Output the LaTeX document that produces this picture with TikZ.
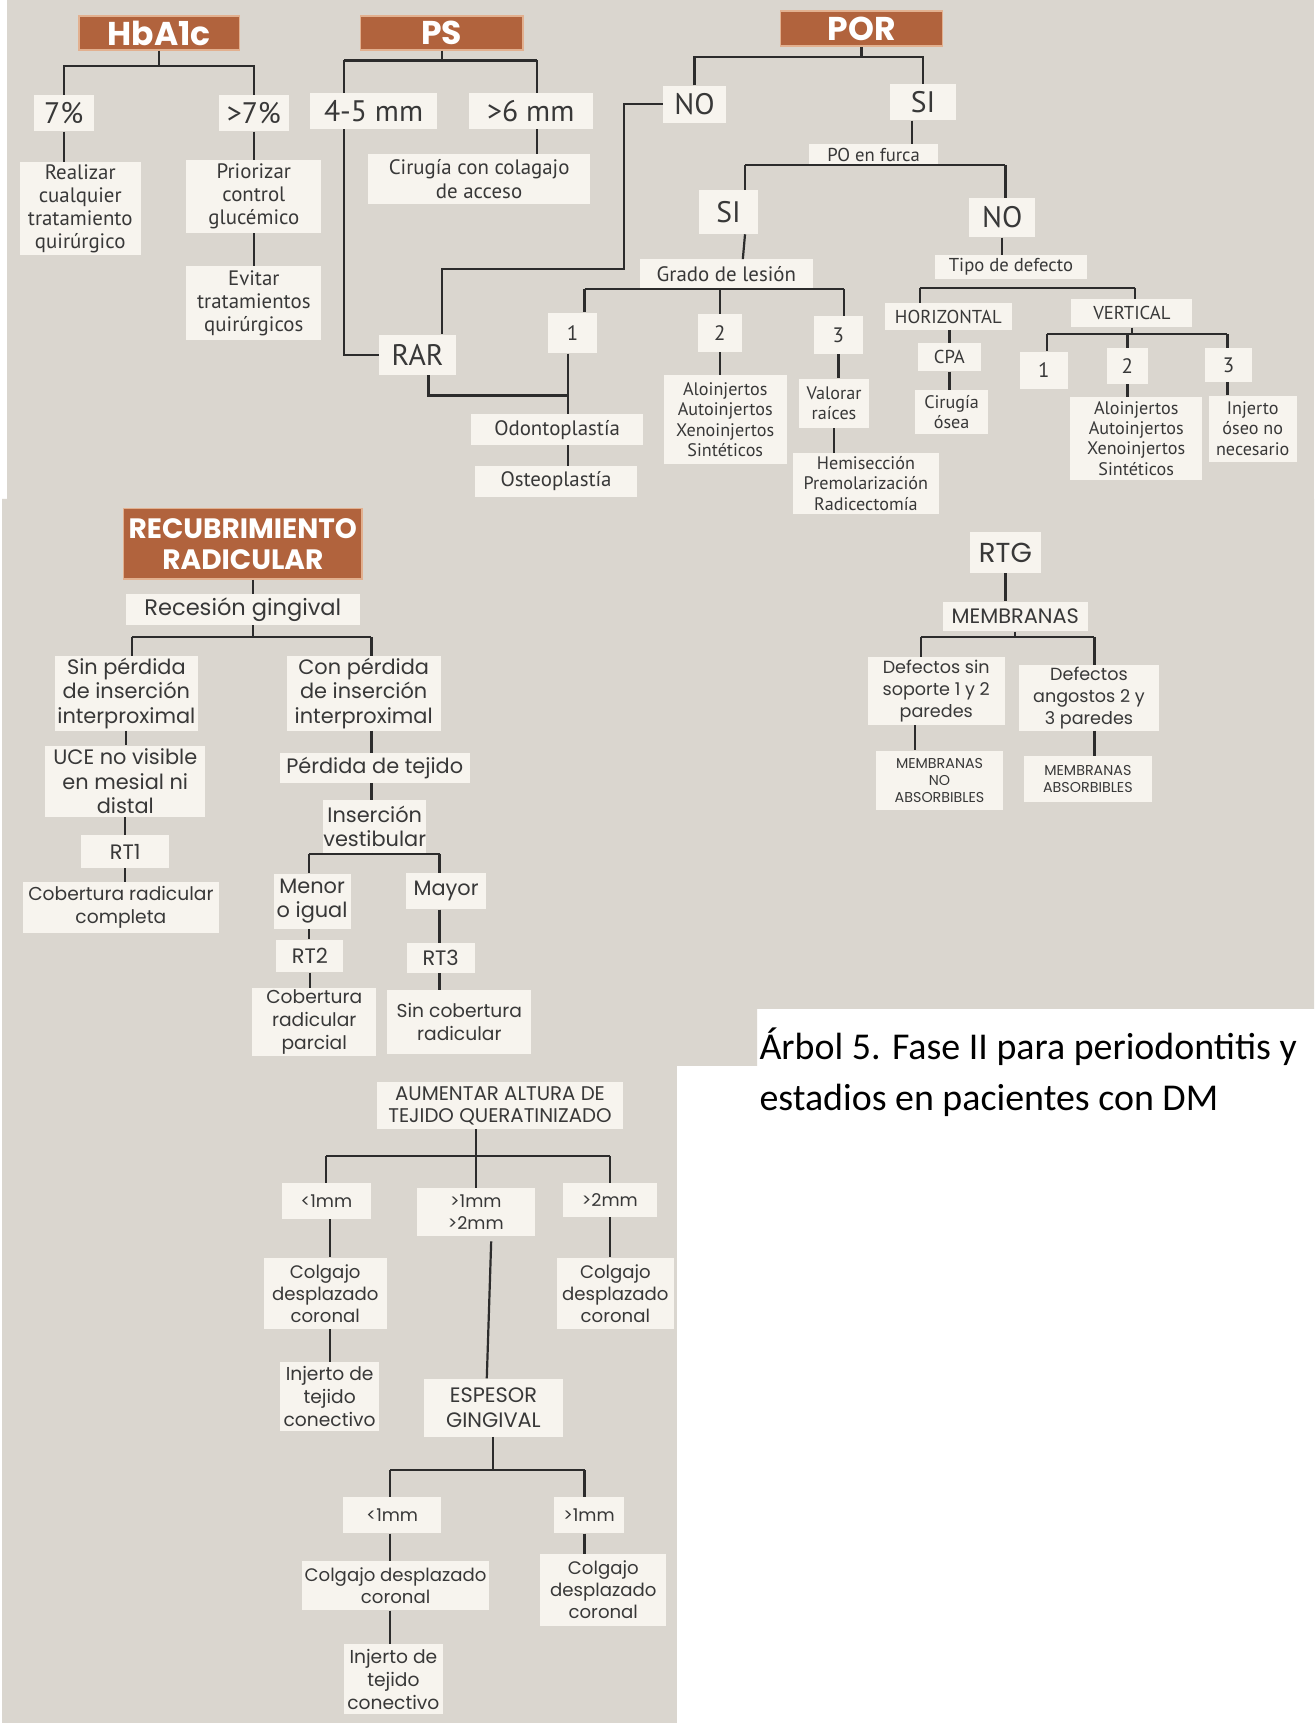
\documentclass[tikz,border=0pt]{standalone}
\usepackage{fontspec}
\setmainfont{PT Sans}
\newfontfamily\topf{PT Sans}
\newfontfamily\lowf{Poppins}
\newfontfamily\capf{Carlito}
\newcommand\fz[2]{\fontsize{#1}{#2}\selectfont}
\definecolor{paper}{HTML}{DAD6CF}
\definecolor{boxc}{HTML}{F7F4EE}
\definecolor{brn}{HTML}{B1633D}
\definecolor{brnl}{HTML}{E2B08F}
\definecolor{ink}{HTML}{383838}
\definecolor{lnc}{HTML}{2C2C2C}
\tikzset{
  bx/.style={fill=boxc, inner sep=0pt, align=center, text=ink},
  wh/.style 2 args={minimum width=#1, minimum height=#2},
  tt/.style={fill=brn, draw=brnl, line width=1.2pt, inner sep=0pt, align=center,
             text=white, font=\lowf\bfseries\fz{30}{30}},
  ln/.style={draw=lnc, line width=2pt},
  tA/.style={font=\topf\fz{27}{30}},
  tB/.style={font=\topf\fz{19}{21}},
  tC/.style={font=\topf\fz{17}{19}},
  tD/.style={font=\topf\fz{16.5}{18.5}},
  lA/.style={font=\lowf\fz{19}{22}},
  lS/.style={font=\lowf\fz{17}{21}},
  lK/.style={font=\lowf\fz{16.5}{20}},
  lB/.style={font=\lowf\fz{16}{20}},
  lC/.style={font=\lowf\fz{13}{15.5}},
}
\begin{document}
\begin{tikzpicture}[x=1pt,y=-1pt]
\useasboundingbox (0,0) rectangle (1196,1568);
% paper background
\fill[white] (0,0) rectangle (1196,1568);
\fill[paper] (6,0) rectangle (1196,454);
\fill[paper] (2,454) -- (1196,454) -- (1196,918) -- (689,918) -- (689,970)
  -- (616,970) -- (616,1568) -- (2,1568) -- cycle;

% ---------- HbA1c ----------
\node[tt, wh={146}{31}] (hb) at (145,30) {HbA1c};
\node[bx, tA, wh={55}{33}] (p7) at (58,103) {7\%};
\node[bx, tA, wh={64}{33}] (pg7) at (231,103) {>7\%};
\node[bx, tB, wh={110}{85}] (real) at (73,190) {Realizar\\cualquier\\tratamiento\\quirúrgico};
\node[bx, tB, wh={123}{66}] (prio) at (231,179) {Priorizar\\control\\glucémico};
\node[bx, tB, wh={123}{67}] (evit) at (231,276) {Evitar\\tratamientos\\quirúrgicos};

% ---------- PS ----------
\node[tt, wh={148}{31}] (ps) at (402,30) {PS};
\node[bx, tA, wh={115}{33}] (b45) at (340,101) {4-5 mm};
\node[bx, tA, wh={113}{33}] (g6) at (483,101) {>6 mm};
\node[bx, tB, wh={202}{46}] (ciru) at (436,163) {Cirugía con colagajo\\de acceso};
\node[bx, tA, wh={70}{37}] (rar) at (380,323) {RAR};

% ---------- POR ----------
\node[tt, wh={148}{32}] (por) at (784,26) {POR};
\node[bx, tA, wh={57}{34}] (no1) at (632,95) {NO};
\node[bx, tA, wh={60}{33}] (si1) at (840,93) {SI};
\node[bx, tC, wh={117}{20}] (pof) at (795,141) {PO en furca};
\node[bx, tA, wh={53}{40}] (si2) at (663,193) {SI};
\node[bx, tA, wh={60}{36}] (no2) at (912,198) {NO};
\node[bx, tB, wh={157}{26}] (grado) at (661,249) {Grado de lesión};
\node[bx, tB, wh={45}{37}] (g1) at (521,303) {1};
\node[bx, tB, wh={40}{35}] (g2) at (655,303) {2};
\node[bx, tB, wh={45}{34}] (g3) at (763,305) {3};
\node[bx, tB, wh={157}{28}] (odo) at (507,391) {Odontoplastía};
\node[bx, tB, wh={148}{28}] (osteo) at (506,438) {Osteoplastía};
\node[bx, tD, wh={112}{81}] (aloA) at (660,382) {Aloinjertos\\Autoinjertos\\Xenoinjertos\\Sintéticos};
\node[bx, tD, wh={63}{45}] (val) at (759,367) {Valorar\\raíces};
\node[bx, tD, wh={133}{55}] (hemi) at (788,440) {Hemisección\\Premolarización\\Radicectomía};
\node[bx, tC, wh={138}{22}] (tipo) at (920,243) {Tipo de defecto};
\node[bx, tC, wh={115}{25}] (hor) at (863,288) {HORIZONTAL};
\node[bx, tC, wh={110}{26}] (ver) at (1030,285) {VERTICAL};
\node[bx, tC, wh={58}{26}] (cpa) at (864,325) {CPA};
\node[bx, tD, wh={66}{40}] (cir) at (866,375) {Cirugía\\ósea};
\node[bx, tB, wh={44}{34}] (v1) at (950,337) {1};
\node[bx, tB, wh={38}{33}] (v2) at (1026,333) {2};
\node[bx, tB, wh={42}{31}] (v3) at (1118,332) {3};
\node[bx, tD, wh={120}{75}] (aloB) at (1034,399) {Aloinjertos\\Autoinjertos\\Xenoinjertos\\Sintéticos};
\node[bx, tD, wh={80}{60}] (inj) at (1140,390) {Injerto\\óseo no\\necesario};

% ---------- Recubrimiento radicular ----------
\node[tt, font=\lowf\bfseries\fz{25.5}{28}, wh={217}{64}] (rec) at (221,495) {RECUBRIMIENTO\\RADICULAR};
\node[bx, font=\lowf\fz{20.5}{22}, wh={213}{28}] (reces) at (221,555) {Recesión gingival};
\node[bx, lA, wh={130}{68}] (sinp) at (115,631) {Sin pérdida\\de inserción\\interproximal};
\node[bx, lA, wh={140}{68}] (conp) at (331,631) {Con pérdida\\de inserción\\interproximal};
\node[bx, lA, wh={146}{65}] (uce) at (114,711) {UCE no visible\\en mesial ni\\distal};
\node[bx, lA, wh={80}{30}] (rt1) at (114,775) {RT1};
\node[bx, lS, wh={178}{47}] (cob1) at (110,826) {Cobertura radicular\\completa};
\node[bx, lA, wh={173}{27}] (perd) at (341,699) {Pérdida de tejido};
\node[bx, lA, wh={92}{48}] (ins) at (341,752) {Inserción\\vestibular};
\node[bx, lA, wh={70}{50}] (men) at (284,820) {Menor\\o igual};
\node[bx, lA, wh={73}{33}] (may) at (406,811) {Mayor};
\node[bx, lA, wh={61}{30}] (rt2) at (282,870) {RT2};
\node[bx, lA, wh={62}{27}] (rt3) at (401,872) {RT3};
\node[bx, lS, wh={113}{62}] (cob2) at (286,930) {Cobertura\\radicular\\parcial};
\node[bx, lS, wh={131}{58}] (sincob) at (418,930) {Sin cobertura\\radicular};

% ---------- Tejido queratinizado ----------
\node[bx, font=\lowf\fz{18}{20}, wh={223}{43}] (aum) at (455,1006) {AUMENTAR ALTURA DE\\TEJIDO QUERATINIZADO};
\node[bx, lB, wh={81}{33}] (a1) at (297,1093) {<1mm};
\node[bx, lB, wh={107}{43}] (a2) at (433,1103) {>1mm\\>2mm};
\node[bx, lB, wh={86}{31}] (a3) at (555,1092) {>2mm};
\node[bx, lK, wh={112}{65}] (col1) at (296,1177) {Colgajo\\desplazado\\coronal};
\node[bx, lS, wh={90}{63}] (injA) at (300,1271) {Injerto de\\tejido\\conectivo};
\node[bx, lK, wh={107}{65}] (col3) at (560,1177) {Colgajo\\desplazado\\coronal};
\node[bx, lA, wh={127}{53}] (esp) at (449,1281) {ESPESOR\\GINGIVAL};
\node[bx, lB, wh={89}{33}] (e1) at (357,1379) {<1mm};
\node[bx, lB, wh={63}{33}] (e2) at (536,1379) {>1mm};
\node[bx, lK, wh={170}{45}] (col4) at (360,1443) {Colgajo desplazado\\coronal};
\node[bx, lK, wh={115}{65}] (col5) at (549,1447) {Colgajo\\desplazado\\coronal};
\node[bx, lS, wh={90}{63}] (injB) at (358,1528) {Injerto de\\tejido\\conectivo};

% ---------- RTG ----------
\node[bx, font=\lowf\fz{25}{28}, wh={65}{37}] (rtg) at (915,503) {RTG};
\node[bx, lA, wh={132}{27}] (mem) at (924,561) {MEMBRANAS};
\node[bx, lB, wh={125}{62}] (def1) at (852,629) {Defectos sin\\soporte 1 y 2\\paredes};
\node[bx, lB, wh={128}{60}] (def2) at (991,635) {Defectos\\angostos 2 y\\3 paredes};
\node[bx, lC, wh={115}{54}] (mno) at (855,710) {MEMBRANAS\\NO\\ABSORBIBLES};
\node[bx, lC, wh={116}{42}] (mab) at (990,709) {MEMBRANAS\\ABSORBIBLES};

% ---------- caption ----------
\node[anchor=west, inner sep=0pt, align=left, text=black, font=\capf\fz{34.5}{46}] (cap)
  at (691,976) {Árbol 5. Fase II para periodontitis y\\estadios en pacientes con DM};

% ---------- connectors: HbA1c ----------
\coordinate (hbb) at (145,60);
\draw[ln] (hb.south) -- (hbb);
\draw[ln] (p7.north) |- (hbb) -| (pg7.north);
\draw[ln] (p7.south) -- (p7.south |- real.north);
\draw[ln] (pg7.south) -- (prio.north);
\draw[ln] (prio.south) -- (evit.north);

% ---------- connectors: PS ----------
\coordinate (psb) at (402,55);
\coordinate (c45) at (313,55);
\coordinate (c6) at (489,55);
\draw[ln] (ps.south) -- (psb);
\draw[ln] (c45) -- (c6);
\draw[ln] (c45) -- (c45 |- b45.north);
\draw[ln] (c6) -- (c6 |- g6.north);
\draw[ln] (c6 |- g6.south) -- (c6 |- ciru.north);
\draw[ln] (c45 |- b45.south) |- (rar.west);
\coordinate (k1) at (568,245);
\draw[ln] (no1.west) -| (k1) -| ([xshift=22pt]rar.north);
\coordinate (jx) at (517,360);
\draw[ln] (jx |- g1.south) -- (jx |- odo.north);
\draw[ln] ([xshift=10pt]rar.south) |- (jx);
\draw[ln] (jx |- odo.south) -- (jx |- osteo.north);

% ---------- connectors: POR ----------
\coordinate (porb) at (784,52);
\draw[ln] (por.south) -- (porb);
\draw[ln] (no1.north) |- (porb) -| (si1.north);
\draw[ln] ([xshift=-10pt]si1.south) -- ([xshift=35pt]pof.north);
\coordinate (pfl) at (678,150);
\coordinate (pfr) at (915,150);
\draw[ln] (pfl) -- (pfr);
\draw[ln] (pfl) -- (pfl |- si2.north);
\draw[ln] (pfr) -- (pfr |- no2.north);
\draw[ln] ([xshift=15pt]si2.south) -- ([xshift=15pt]grado.north);
\coordinate (gb1) at (532,263);
\coordinate (gb3) at (768,263);
\draw[ln] (gb1) -- (gb3);
\draw[ln] (gb1) -- (gb1 |- g1.north);
\draw[ln] (g2.north |- gb1) -- (g2.north);
\draw[ln] (gb3) -- (gb3 |- g3.north);
\draw[ln] (g2.south) -- (g2.south |- aloA.north);
\draw[ln] (g3.south) -- (g3.south |- val.north);
\draw[ln] (val.south) -- (val.south |- hemi.north);
\draw[ln] (no2.south) -- (no2.south |- tipo.north);
\coordinate (tl) at (837,262);
\coordinate (tr) at (1033,262);
\draw[ln] (tl) -- (tr);
\draw[ln] (tl) -- (tl |- hor.north);
\draw[ln] (tr) -- (tr |- ver.north);
\draw[ln] (cpa.north |- hor.south) -- (cpa.north);
\draw[ln] (cpa.south) -- (cpa.south |- cir.north);
\coordinate (vl) at (953,304);
\coordinate (vr) at (1117,304);
\draw[ln] (vl) -- (vr);
\draw[ln] (ver.south) -- (ver.south |- vl);
\draw[ln] (vl) -- (vl |- v1.north);
\draw[ln] (v2.north |- vl) -- (v2.north);
\draw[ln] (vr) -- (vr |- v3.north);
\draw[ln] (v2.south) -- (v2.south |- aloB.north);
\draw[ln] (vr |- v3.south) -- (vr |- inj.north);

% ---------- connectors: recubrimiento ----------
\coordinate (rm) at (230,580);
\coordinate (rl) at (120,580);
\coordinate (rr) at (338,580);
\draw[ln] (rm |- rec.south) -- (rm |- reces.north);
\draw[ln] (rm |- reces.south) -- (rm);
\draw[ln] (rl) -- (rr);
\draw[ln] (rl) -- (rl |- sinp.north);
\draw[ln] (rr) -- (rr |- conp.north);
\draw[ln] (sinp.south) -- (sinp.south |- uce.north);
\draw[ln] (uce.south) -- (uce.south |- rt1.north);
\draw[ln] (rt1.south) -- (rt1.south |- cob1.north);
\draw[ln] (rr |- conp.south) -- (rr |- perd.north);
\draw[ln] (rr |- perd.south) -- (rr |- ins.north);
\coordinate (il) at (281,777);
\coordinate (ir) at (400,777);
\draw[ln] (il) -- (ir);
\draw[ln] (rr |- ins.south) -- (rr |- il);
\draw[ln] (il) -- (il |- men.north);
\draw[ln] (ir) -- (ir |- may.north);
\draw[ln] (il |- men.south) -- (il |- rt2.north);
\draw[ln] (ir |- may.south) -- (ir |- rt3.north);
\draw[ln] (rt2.south) -- (rt2.south |- cob2.north);
\draw[ln] (ir |- rt3.south) -- (ir |- sincob.north);

% ---------- connectors: tejido queratinizado ----------
\coordinate (al) at (297,1052);
\coordinate (am) at (433,1052);
\coordinate (ar) at (555,1052);
\draw[ln] (al) -- (ar);
\draw[ln] (am |- aum.south) -- (am);
\draw[ln] (al) -- (al |- a1.north);
\draw[ln] (am) -- (am |- a2.north);
\draw[ln] (ar) -- (ar |- a3.north);
\coordinate (cx1) at (300,1150);
\draw[ln] (cx1 |- a1.south) -- (cx1 |- col1.north);
\draw[ln] (cx1 |- col1.south) -- (cx1 |- injA.north);
\draw[ln] (ar |- a3.south) -- (ar |- col3.north);
\draw[ln] ([xshift=14pt,yshift=-5pt]a2.south) -- ([xshift=-6pt]esp.north);
\coordinate (el) at (355,1338);
\coordinate (em) at (449,1338);
\coordinate (er) at (532,1338);
\draw[ln] (el) -- (er);
\draw[ln] (em |- esp.south) -- (em);
\draw[ln] (el) -- (el |- e1.north);
\draw[ln] (er) -- (er |- e2.north);
\draw[ln] (el |- e1.south) -- (el |- col4.north);
\draw[ln] (el |- col4.south) -- (el |- injB.north);
\draw[ln] (er |- e2.south) -- (er |- col5.north);

% ---------- connectors: RTG ----------
\draw[ln] (rtg.south) -- (rtg.south |- mem.north);
\coordinate (ml) at (838,580);
\coordinate (mr) at (996,580);
\draw[ln] (ml) -- (mr);
\draw[ln] (mem.south) -- (mem.south |- ml);
\draw[ln] (ml) -- (ml |- def1.north);
\draw[ln] (mr) -- (mr |- def2.north);
\coordinate (dx1) at (833,660);
\draw[ln] (dx1 |- def1.south) -- (dx1 |- mno.north);
\draw[ln] (mr |- def2.south) -- (mr |- mab.north);
\end{tikzpicture}
\end{document}
